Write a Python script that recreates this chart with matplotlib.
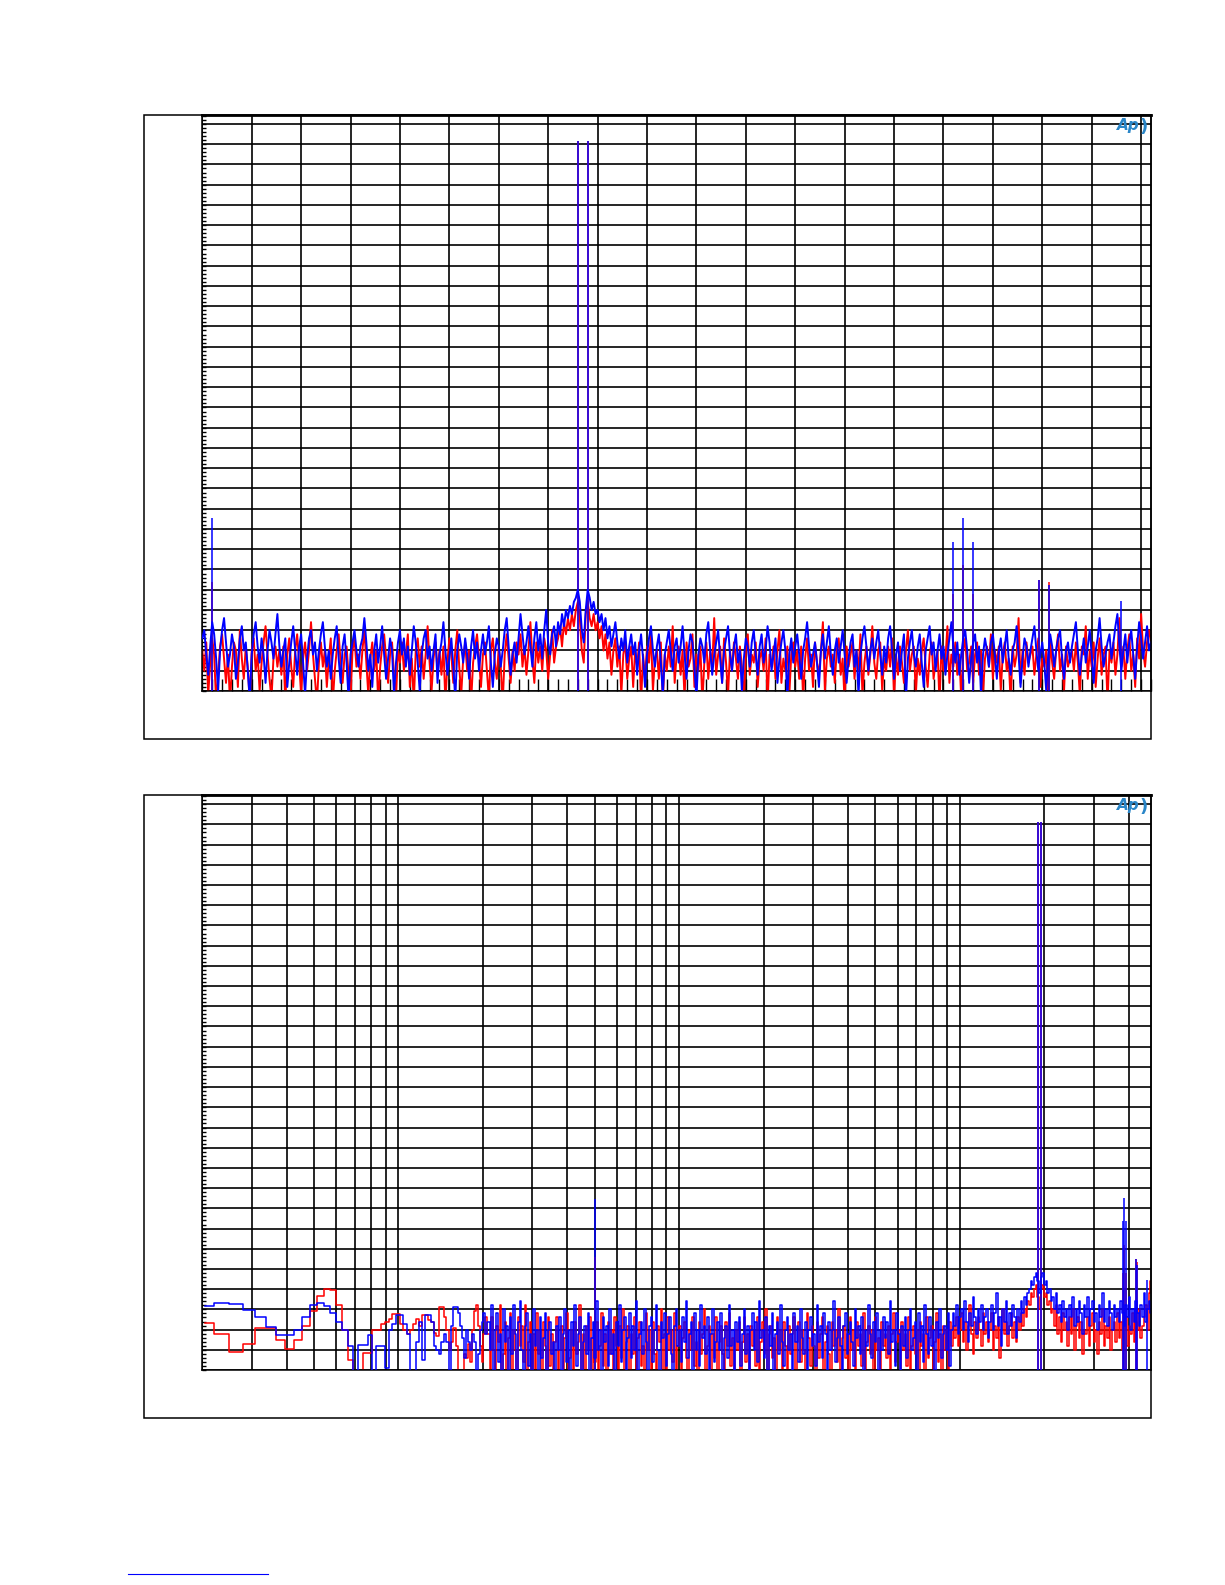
import numpy as np
import matplotlib
matplotlib.use("Agg")
import matplotlib.pyplot as plt
from matplotlib.ticker import MultipleLocator, LogLocator, NullFormatter
from matplotlib.patches import Rectangle
from matplotlib.lines import Line2D

# ---------------- data ----------------
# Top panel: linear FFT, 0-48 kHz, one value every 0.1 kHz
top_freq_khz = np.round(np.arange(0, 481) * 0.1, 1)
top_blue_db = [
    -127, -125, -131, -136, -129, -123, -126, -132, -140, -130, -125, -122, -128, -134, -131, -126, -129, -137, -133, -127,
    -124, -130, -128, -135, -142, -131, -126, -123, -129, -133, -127, -131, -138, -130, -125, -128, -132, -126, -121, -129,
    -134, -130, -127, -139, -133, -128, -124, -130, -136, -129, -126, -133, -141, -132, -127, -125, -131, -128, -135, -130,
    -126, -123, -129, -134, -130, -137, -131, -127, -124, -132, -138, -129, -126, -133, -142, -131, -128, -125, -130, -134,
    -129, -127, -122, -128, -135, -131, -139, -130, -126, -133, -129, -124, -131, -137, -132, -127, -130, -141, -133, -128,
    -125, -131, -127, -134, -129, -136, -130, -124, -128, -133, -140, -131, -127, -125, -132, -129, -135, -130, -126, -138,
    -131, -128, -123, -130, -136, -132, -127, -134, -142, -130, -126, -129, -133, -127, -131, -137, -129, -125, -132, -128,
    -135, -130, -126, -131, -128, -124, -133, -139, -131, -127, -129, -134, -130, -125, -122, -129, -136, -131, -128, -133,
    -127, -121, -126, -131, -128, -124, -129, -134, -127, -123, -130, -126, -132, -125, -120, -128, -131, -126, -124, -129,
    -123, -126, -121, -124, -120, -122, -119, -121, -118, -117, -115, -118, -125, -128, -120, -115, -117, -120, -118, -121,
    -120, -123, -121, -125, -122, -127, -124, -129, -126, -123, -128, -132, -127, -130, -125, -133, -129, -126, -131, -128,
    -136, -130, -126, -132, -139, -131, -127, -124, -130, -134, -129, -126, -133, -141, -131, -128, -125, -130, -135, -129,
    -127, -133, -129, -124, -131, -137, -130, -126, -128, -134, -142, -131, -127, -129, -133, -126, -123, -130, -136, -131,
    -128, -125, -132, -138, -130, -127, -124, -131, -135, -129, -126, -133, -130, -140, -132, -127, -129, -134, -128, -125,
    -131, -136, -129, -126, -133, -130, -124, -128, -135, -131, -127, -138, -132, -128, -125, -130, -142, -131, -127, -133,
    -129, -126, -131, -137, -130, -127, -123, -129, -134, -131, -128, -133, -139, -130, -126, -132, -128, -124, -131, -136,
    -130, -127, -133, -129, -125, -131, -138, -132, -128, -126, -134, -130, -141, -131, -127, -124, -129, -135, -130, -127,
    -132, -128, -125, -131, -136, -129, -133, -127, -124, -130, -137, -131, -128, -135, -130, -126, -142, -132, -128, -125,
    -131, -134, -129, -126, -133, -139, -130, -127, -124, -131, -128, -135, -130, -126, -132, -129, -136, -131, -127, -123,
    -129, -133, -128, -136, -131, -127, -125, -130, -138, -132, -128, -126, -133, -129, -141, -131, -127, -130, -134, -128,
    -126, -131, -137, -130, -127, -133, -129, -125, -132, -136, -130, -128, -124, -131, -139, -132, -127, -129, -134, -130,
    -127, -124, -130, -135, -131, -128, -133, -140, -131, -126, -129, -134, -130, -127, -125, -132, -137, -130, -128, -133,
    -129, -126, -123, -130, -136, -131, -127, -133, -129, -125, -131, -138, -130, -127, -122, -129, -134, -131, -128, -126,
    -132, -128, -124, -121, -129, -135, -130, -126, -133, -128, -125, -131, -137, -129, -123, -127, -132, -128, -124, -130,
    -128,
]
top_red_db = [
    -130, -135, -128, -141, -133, -127, -131, -143, -136, -129, -126, -132, -138, -131, -143, -134, -128, -130, -139, -125,
    -132, -137, -129, -134, -143, -130, -127, -135, -131, -140, -133, -128, -124, -131, -137, -142, -132, -129, -134, -130,
    -136, -129, -143, -131, -127, -134, -139, -130, -126, -133, -141, -132, -128, -135, -130, -123, -131, -137, -143, -133,
    -128, -134, -130, -139, -132, -127, -143, -135, -130, -126, -133, -138, -131, -129, -136, -142, -130, -127, -134, -131,
    -137, -130, -125, -133, -141, -132, -128, -135, -130, -143, -134, -129, -126, -132, -138, -131, -128, -136, -142, -130,
    -133, -128, -135, -131, -126, -139, -132, -143, -130, -127, -134, -129, -137, -131, -124, -133, -140, -132, -128, -135,
    -130, -136, -129, -143, -133, -127, -131, -138, -130, -125, -134, -141, -132, -128, -135, -130, -143, -133, -129, -126,
    -132, -139, -131, -128, -135, -142, -130, -127, -133, -137, -129, -134, -143, -131, -126, -132, -138, -130, -135, -128,
    -131, -126, -134, -129, -136, -130, -123, -132, -138, -128, -133, -129, -135, -127, -130, -137, -131, -125, -133, -129,
    -127, -124, -129, -123, -126, -122, -125, -121, -124, -120, -118, -122, -130, -133, -121, -118, -122, -124, -121, -125,
    -123, -127, -124, -130, -126, -132, -128, -136, -130, -127, -134, -129, -141, -131, -128, -137, -132, -129, -139, -130,
    -134, -128, -143, -131, -137, -129, -133, -126, -140, -132, -130, -137, -128, -143, -131, -135, -129, -134, -124, -138,
    -131, -129, -136, -130, -142, -128, -134, -132, -126, -139, -131, -135, -129, -143, -133, -128, -137, -130, -134, -122,
    -136, -131, -129, -138, -127, -133, -141, -130, -135, -128, -132, -137, -129, -134, -143, -130, -126, -136, -131, -133,
    -128, -139, -132, -130, -135, -127, -143, -131, -134, -129, -137, -130, -125, -138, -132, -135, -129, -141, -131, -128,
    -134, -130, -137, -129, -142, -132, -127, -135, -131, -139, -128, -133, -136, -130, -123, -140, -132, -129, -134, -131,
    -138, -130, -127, -136, -132, -143, -129, -134, -131, -128, -137, -130, -135, -126, -141, -133, -129, -136, -131, -124,
    -133, -137, -130, -128, -140, -132, -135, -129, -134, -127, -142, -131, -136, -129, -133, -138, -130, -125, -135, -131,
    -129, -141, -132, -136, -130, -127, -134, -139, -131, -128, -137, -133, -130, -143, -129, -135, -132, -124, -138, -131,
    -134, -128, -136, -131, -142, -130, -127, -135, -133, -129, -138, -131, -128, -136, -130, -141, -132, -129, -134, -126,
    -137, -130, -133, -129, -140, -131, -128, -135, -132, -143, -129, -134, -131, -122, -138, -130, -136, -128, -133, -131,
    -129, -136, -131, -127, -139, -132, -134, -130, -142, -128, -133, -137, -130, -126, -135, -131, -140, -129, -134, -132,
    -130, -135, -128, -133, -141, -129, -131, -124, -137, -130, -134, -128, -139, -132, -127, -136, -131, -129, -143, -130,
    -133, -128, -136, -131, -122, -134, -129, -137, -130, -126, -135, -131, -139, -127, -132, -121, -130, -134, -128, -125,
    -128,
]
top_blue_spike_khz = [0.5, 19.0, 19.5, 38.0, 38.5, 39.0, 42.35, 42.85, 46.5]
top_blue_spike_db = [-97.4, -4.3, -4.3, -103.1, -97.4, -103.1, -112.6, -113.9, -117.8]
top_red_spike_khz = [0.5, 19.0, 19.5, 38.0, 38.5, 39.0, 42.35, 42.85]
top_red_spike_db = [-113.0, -4.3, -4.3, -116.0, -109.0, -116.0, -112.6, -113.2]

# Bottom panel: log FFT 20 Hz - 48 kHz
bot_low_bin = np.arange(7, 71)                 # FFT bin numbers (2.93 Hz bins)
bot_low_hz = bot_low_bin * 96000.0 / 32768.0
bot_low_blue_db = [
    -124.2, -123.3, -123.7, -125.2, -127.0, -129.4, -131.3, -131.3, -130.1, -126.8,
    -123.9, -123.3, -124.2, -126.0, -128.0, -130.1, -134.1, -142.0, -133.9, -133.9,
    -131.3, -142.0, -134.0, -134.0, -139.5, -130.0, -128.5, -126.5, -126.5, -128.5,
    -131.0, -142.0, -142.0, -133.0, -128.0, -137.5, -126.4, -126.4, -128.0, -134.0,
    -135.0, -136.0, -133.0, -131.0, -133.0, -142.0, -129.0, -124.3, -124.3, -126.0,
    -129.0, -132.0, -137.0, -130.0, -133.0, -135.0, -131.0, -133.0, -142.0, -136.0,
    -130.0, -128.0, -126.0, -131.0,
]
bot_low_red_db = [
    -128.4, -131.2, -135.6, -133.6, -129.7, -129.7, -132.6, -134.9, -132.6, -129.2,
    -125.5, -121.8, -120.0, -120.2, -123.8, -130.0, -137.5, -142.0, -142.0, -135.9,
    -135.9, -130.1, -130.1, -128.5, -128.0, -127.5, -126.2, -126.2, -128.5, -130.1,
    -131.0, -130.0, -128.5, -127.5, -129.0, -126.4, -126.4, -127.6, -128.0, -130.8,
    -131.5, -124.4, -124.4, -127.0, -130.0, -135.0, -133.0, -129.5, -134.0, -142.0,
    -142.0, -141.0, -136.0, -137.0, -133.5, -138.0, -130.0, -125.5, -124.0, -129.0,
    -134.0, -138.0, -131.0, -127.0,
]
bot_dense_hz = np.geomspace(210.0, 48000.0, 400)
bot_dense_blue_db = [
    -128, -135, -124, -142, -130, -126, -138, -131, -142, -125, -133, -129, -142, -127, -136, -124, -131, -140, -128, -123,
    -135, -142, -129, -126, -139, -131, -142, -125, -134, -130, -142, -127, -137, -132, -126, -141, -130, -128, -136, -133,
    -142, -129, -135, -127, -140, -131, -125, -138, -130, -142, -128, -134, -124, -139, -131, -127, -142, -133, -129, -136,
    -126, -141, -132, -128, -137, -123, -135, -130, -142, -127, -133, -129, -139, -125, -136, -131, -142, -128, -134, -124,
    -138, -130, -127, -141, -132, -126, -137, -129, -135, -123, -140, -131, -128, -136, -125, -133, -142, -129, -127, -138,
    -130, -124, -135, -141, -128, -132, -126, -139, -131, -127, -136, -142, -129, -125, -134, -130, -138, -127, -133, -123,
    -137, -131, -128, -142, -126, -135, -130, -139, -124, -132, -129, -136, -127, -141, -131, -125, -138, -133, -128, -135,
    -126, -140, -132, -129, -137, -124, -134, -130, -142, -128, -133, -127, -139, -131, -125, -136, -129, -141, -130, -126,
    -135, -128, -138, -123, -132, -130, -137, -127, -142, -129, -134, -126, -140, -131, -128, -136, -124, -133, -139, -130,
    -127, -135, -131, -142, -126, -133, -129, -138, -125, -132, -136, -128, -141, -130, -127, -134, -131, -139, -124, -133,
    -129, -137, -126, -131, -142, -128, -135, -130, -123, -138, -132, -127, -134, -140, -129, -126, -136, -131, -128, -133,
    -139, -125, -132, -129, -136, -127, -142, -130, -134, -124, -131, -137, -128, -133, -126, -140, -130, -135, -127, -132,
    -128, -136, -123, -133, -130, -139, -126, -131, -142, -129, -134, -127, -137, -130, -125, -135, -132, -128, -141, -126,
    -133, -129, -138, -124, -131, -136, -127, -134, -130, -142, -128, -132, -125, -137, -131, -129, -135, -126, -139, -130,
    -126, -129, -124, -131, -127, -125, -130, -123, -128, -133, -126, -129, -122, -127, -131, -125, -128, -124, -130, -127,
    -125, -132, -128, -124, -130, -126, -121, -129, -127, -134, -125, -128, -123, -131, -126, -129, -124, -127, -132, -125,
    -128, -123, -126, -122, -124, -121, -120, -118, -119, -117, -116, -118, -121, -117, -116, -119, -118, -121, -120, -123,
    -122, -125, -121, -126, -124, -128, -123, -127, -125, -130, -124, -127, -122, -129, -125, -128, -123, -126, -131, -124,
    -127, -122, -129, -125, -123, -128, -126, -130, -124, -127, -121, -128, -125, -129, -123, -126, -130, -124, -127, -125,
    -128, -123, -126, -129, -124, -127, -122, -130, -125, -128, -123, -126, -129, -124, -127, -121, -128, -125, -123, -126,
]
bot_dense_red_db = [
    -131, -142, -127, -135, -142, -129, -133, -124, -140, -136, -128, -142, -132, -126, -141, -130, -135, -142, -127, -134,
    -129, -138, -124, -142, -133, -128, -140, -131, -142, -126, -136, -130, -142, -128, -134, -142, -127, -139, -131, -142,
    -133, -127, -142, -135, -129, -141, -132, -126, -142, -137, -130, -142, -128, -136, -133, -124, -140, -131, -142, -129,
    -135, -127, -142, -132, -138, -128, -142, -134, -126, -139, -131, -142, -128, -136, -130, -141, -127, -134, -142, -129,
    -137, -125, -142, -133, -129, -140, -131, -136, -127, -142, -132, -128, -139, -134, -142, -126, -135, -130, -141, -128,
    -136, -142, -129, -133, -125, -140, -131, -142, -127, -135, -130, -138, -126, -142, -134, -129, -141, -132, -128, -137,
    -142, -130, -135, -127, -139, -133, -142, -128, -136, -131, -125, -141, -134, -129, -142, -131, -137, -127, -140, -133,
    -129, -136, -142, -128, -134, -126, -139, -132, -142, -130, -135, -128, -141, -133, -127, -138, -131, -142, -129, -134,
    -130, -139, -127, -142, -133, -128, -136, -125, -142, -131, -129, -137, -132, -142, -127, -135, -130, -140, -128, -134,
    -141, -129, -136, -131, -127, -142, -133, -128, -138, -130, -135, -142, -126, -132, -139, -129, -134, -142, -128, -137,
    -131, -127, -140, -133, -129, -136, -142, -128, -134, -130, -138, -125, -142, -132, -129, -137, -131, -142, -127, -135,
    -130, -141, -128, -134, -131, -139, -126, -142, -133, -129, -136, -130, -142, -127, -135, -132, -140, -128, -134, -131,
    -137, -129, -142, -131, -126, -138, -133, -130, -142, -128, -135, -131, -139, -127, -142, -134, -129, -136, -130, -141,
    -128, -134, -131, -142, -127, -137, -132, -129, -140, -133, -126, -138, -131, -142, -129, -135, -130, -141, -128, -134,
    -129, -132, -127, -134, -130, -126, -133, -128, -135, -129, -124, -131, -136, -128, -132, -127, -130, -134, -126, -131,
    -128, -133, -130, -126, -135, -129, -132, -127, -137, -130, -125, -131, -128, -134, -129, -126, -132, -128, -133, -127,
    -130, -126, -129, -125, -127, -123, -124, -121, -122, -120, -119, -122, -125, -120, -119, -122, -121, -124, -123, -126,
    -125, -129, -124, -131, -127, -133, -126, -130, -128, -134, -127, -131, -125, -135, -129, -127, -132, -128, -136, -130,
    -131, -127, -134, -129, -126, -133, -130, -136, -128, -131, -125, -134, -129, -132, -127, -135, -130, -128, -133, -126,
    -132, -128, -135, -130, -127, -134, -129, -131, -126, -133, -128, -130, -125, -132, -129, -127, -124, -130, -121, -118,
]
bot_blue_spike_hz = [500, 19000, 19500, 38000, 38500, 39000, 42350, 42850, 46500]
bot_blue_spike_db = [-97.7, -4.3, -4.3, -103.1, -97.4, -103.1, -112.6, -113.9, -117.8]
bot_red_spike_hz = [500, 19000, 19500, 38000, 38500, 39000, 42350, 42850]
bot_red_spike_db = [-112.0, -4.3, -4.3, -116.0, -109.0, -116.0, -112.6, -113.2]

Y_MIN, Y_MAX = -140.0, 2.2
RED, BLUE = "#ff0000", "#0000ff"
LOGO = "#2a86c8"
LW = 1.1        # spikes
LW_NOISE = 1.4  # noise traces

# ---------------- figure ----------------
W, H = 1225, 1585
fig = plt.figure(figsize=(W / 100, H / 100), dpi=100)


def fx(px):
    return px / W


def fy(py):
    return 1 - py / H


def frame(x0, y0, x1, y1):
    fig.add_artist(Rectangle((fx(x0), fy(y1)), fx(x1) - fx(x0), fy(y0) - fy(y1),
                             transform=fig.transFigure, fill=False,
                             edgecolor="black", linewidth=1.1))


def style_axes(ax):
    ax.set_ylim(Y_MIN, Y_MAX)
    ax.yaxis.set_major_locator(MultipleLocator(5))
    ax.yaxis.set_minor_locator(MultipleLocator(1))
    ax.grid(True, which="major", axis="y", color="black", linewidth=1.2)
    ax.tick_params(axis="y", which="both", direction="in", length=3.2, width=1.0,
                   left=True, right=False, labelleft=False)
    for s in ax.spines.values():
        s.set_linewidth(1.1)
        s.set_color("black")
    ax.spines["top"].set_linewidth(2.0)
    ax.text(0.976, 0.982, "Ap", transform=ax.transAxes, ha="center", va="center",
            fontsize=11, fontstyle="italic", fontweight="bold", color=LOGO)
    ax.text(0.992, 0.980, ")", transform=ax.transAxes, ha="center", va="center",
            fontsize=13, fontweight="bold", color=LOGO)


# ---- top panel ----
frame(144.3, 115, 1151, 739)
ax1 = fig.add_axes([fx(202.3), fy(691), fx(1151) - fx(202.3), fy(115) - fy(691)])
ax1.plot(top_freq_khz, top_red_db, color=RED, linewidth=LW_NOISE, zorder=2)
ax1.vlines(top_red_spike_khz, Y_MIN - 5, top_red_spike_db, color=RED, linewidth=LW, zorder=2)
ax1.plot(top_freq_khz, top_blue_db, color=BLUE, linewidth=LW_NOISE, zorder=3)
ax1.vlines(top_blue_spike_khz, Y_MIN - 5, top_blue_spike_db, color=BLUE, linewidth=LW, zorder=3)
ax1.set_xlim(0, 48)
ax1.xaxis.set_major_locator(MultipleLocator(2.5))
ax1.xaxis.set_minor_locator(MultipleLocator(0.5))
ax1.grid(True, which="major", axis="x", color="black", linewidth=1.2)
ax1.tick_params(axis="x", which="both", direction="in", length=8.5, width=1.0,
                bottom=True, top=False, labelbottom=False)
style_axes(ax1)

# ---- bottom panel ----
frame(144.3, 795.3, 1151, 1418.3)
ax2 = fig.add_axes([fx(202.3), fy(1370), fx(1151) - fx(202.3), fy(795.3) - fy(1370)])
bot_hz = np.concatenate([bot_low_hz, bot_dense_hz])
bot_red = np.concatenate([bot_low_red_db, bot_dense_red_db])
bot_blue = np.concatenate([bot_low_blue_db, bot_dense_blue_db])
ax2.plot(bot_hz, bot_red, color=RED, linewidth=LW, drawstyle="steps-mid", zorder=2)
ax2.vlines(bot_red_spike_hz, Y_MIN - 5, bot_red_spike_db, color=RED, linewidth=LW, zorder=2)
ax2.plot(bot_hz, bot_blue, color=BLUE, linewidth=LW, drawstyle="steps-mid", zorder=3)
ax2.vlines(bot_blue_spike_hz, Y_MIN - 5, bot_blue_spike_db, color=BLUE, linewidth=LW, zorder=3)
ax2.set_xscale("log")
ax2.set_xlim(20, 48000)
ax2.xaxis.set_major_locator(LogLocator(base=10, numticks=20))
ax2.xaxis.set_minor_locator(LogLocator(base=10, subs=np.arange(2, 10), numticks=50))
ax2.xaxis.set_major_formatter(NullFormatter())
ax2.xaxis.set_minor_formatter(NullFormatter())
ax2.grid(True, which="both", axis="x", color="black", linewidth=1.2)
ax2.tick_params(axis="x", which="both", length=0, labelbottom=False)
style_axes(ax2)

# page footer link underline
fig.add_artist(Line2D([fx(128), fx(268)], [fy(1574), fy(1574)], transform=fig.transFigure,
                      color=BLUE, linewidth=0.8))

fig.savefig("out.png", dpi=100)
